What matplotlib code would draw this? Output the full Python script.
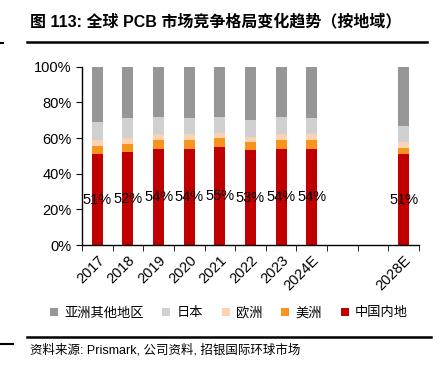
import numpy as np
import matplotlib.pyplot as plt
from matplotlib.patches import Patch
from matplotlib.lines import Line2D

plt.rcParams['font.family'] = ['Liberation Sans', 'Noto Sans CJK SC', 'DejaVu Sans']

years = ['2017', '2018', '2019', '2020', '2021', '2022', '2023', '2024E', '', '', '2028E']
china = [51, 52, 54, 54, 55, 53, 54, 54, 0, 0, 51]
america = [4.5, 4.6, 5, 5, 5, 5, 5, 5, 0, 0, 3.6]
europe = [3.5, 3.4, 3, 3, 3, 2.7, 3, 3, 0, 0, 3.2]
japan = [10, 11, 10, 9, 9, 9.3, 10, 9, 0, 0, 9.2]
has_bar = [1, 1, 1, 1, 1, 1, 1, 1, 0, 0, 1]
other_asia = [100 - c - a - e - j if h else 0
              for c, a, e, j, h in zip(china, america, europe, japan, has_bar)]

series = [('中国内地', china, '#c00000'),
          ('美洲', america, '#f7941d'),
          ('欧洲', europe, '#fbd3b3'),
          ('日本', japan, '#d0d0d0'),
          ('亚洲其他地区', other_asia, '#969696')]

fig = plt.figure(figsize=(4.42, 3.66), dpi=100)
ax = fig.add_axes([0.1855, 0.3306, 0.7625, 0.4872])

x = np.arange(len(years))
bottom = np.zeros(len(years))
for name, vals, col in series:
    ax.bar(x, vals, 0.36, bottom=bottom, color=col, edgecolor='none')
    bottom += np.array(vals)

for xi, c, h in zip(x, china, has_bar):
    if h:
        ax.text(xi, c / 2, f'{c}%', ha='center', va='center', fontsize=10.5,
                family='Liberation Sans')

ax.set_xlim(-0.5, len(years) - 0.5)
ax.set_ylim(0, 100)
ax.set_yticks(range(0, 101, 20))
ax.set_yticklabels([f'{v}%' for v in range(0, 101, 20)], fontsize=10.5)
ax.set_xticks(x)
ax.set_xticklabels(years, rotation=45, ha='right', rotation_mode='anchor', fontsize=10.5)
ax.set_xticks(np.arange(-0.5, len(years)), minor=True)
ax.tick_params(axis='x', which='major', length=0, pad=6)
ax.tick_params(axis='x', which='minor', length=4, direction='out')
ax.tick_params(axis='y', length=4, direction='out')
for s in ['top', 'right']:
    ax.spines[s].set_visible(False)
for s in ['left', 'bottom']:
    ax.spines[s].set_linewidth(1)

handles = [Patch(facecolor=col, edgecolor='none') for _, _, col in series[::-1]]
labels = [name for name, _, _ in series[::-1]]
fig.legend(handles, labels, loc='center', bbox_to_anchor=(0.518, 0.145), ncol=5,
           frameon=False, handlelength=0.6, handleheight=0.6,
           handletextpad=0.5, columnspacing=1.4,
           prop={'family': ['Noto Sans CJK SC'], 'size': 9.5})

fig.text(0.068, 0.94, '图 113: 全球 PCB 市场竞争格局变化趋势（按地域）', fontsize=11.5,
         fontweight='bold', va='center',
         family=['Liberation Sans', 'Noto Sans CJK SC'])
fig.add_artist(Line2D([0.061, 0.967], [0.885, 0.885], color='black', lw=1.8))
fig.add_artist(Line2D([0.0, 0.006], [0.883, 0.883], color='black', lw=1.5))
fig.add_artist(Line2D([0.061, 0.975], [0.078, 0.078], color='black', lw=1.8))
fig.add_artist(Line2D([0.0, 0.03], [0.06, 0.06], color='black', lw=1.5))
fig.text(0.068, 0.044, '资料来源: Prismark, 公司资料, 招银国际环球市场', fontsize=9,
         va='center', family=['Liberation Sans', 'Noto Sans CJK SC'])

fig.savefig('out.png', dpi=100)
